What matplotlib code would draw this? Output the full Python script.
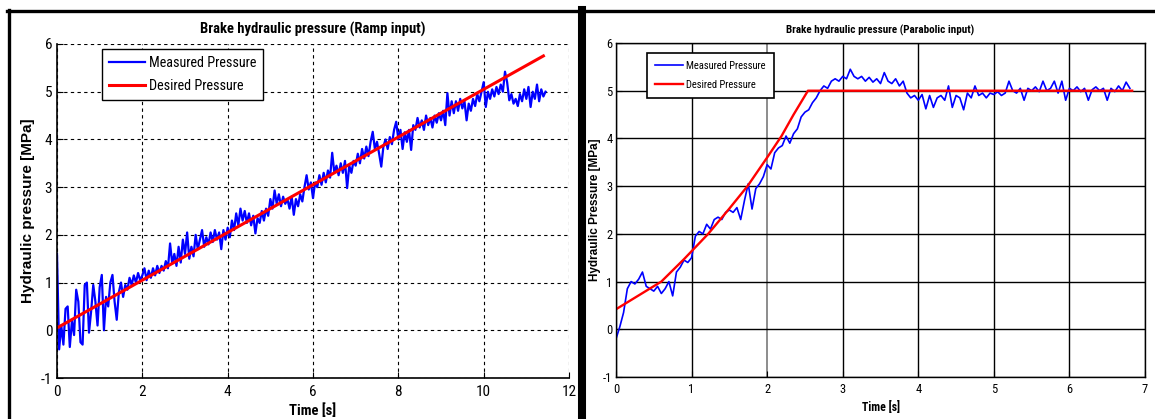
import numpy as np
import matplotlib
matplotlib.use('Agg')
import matplotlib.pyplot as plt
from matplotlib.lines import Line2D

plt.rcParams['font.family'] = ['Roboto Condensed', 'Archivo Narrow', 'Liberation Sans', 'DejaVu Sans']
plt.rcParams['axes.unicode_minus'] = False
WIDE = ['Liberation Sans', 'DejaVu Sans']  # 直排的 ylabel 用一般字寬

# ---- 左圖: Ramp input ----
dt = 0.05  # sampling step [s]
ramp_measured = [
    1.6, -0.4, 0.1, -0.3, 0.45, 0.5, -0.35, 0.2, -0.1, 0.85,
    0.6, -0.25, -0.3, 0.95, 1.0, -0.05, 0.4, 0.95, 0.6, 0.1,
    0.9, 1.16, 0.0, 0.7, 0.5, 1.0, 1.16, 0.6, 0.22, 0.8,
    1.0, 0.7, 0.95, 0.85, 1.1, 0.95, 1.15, 1.0, 1.2, 1.05,
    1.15, 1.3, 1.05, 1.25, 1.1, 1.3, 1.15, 1.35, 1.2, 1.35,
    1.25, 1.45, 1.3, 1.82, 1.4, 1.6, 1.35, 1.75, 1.42, 1.9,
    1.6, 2.05, 1.5, 1.75, 1.55, 2.0, 1.7, 1.9, 2.1, 1.75,
    1.95, 1.8, 2.05, 1.85, 2.1, 1.9, 2.05, 1.7, 2.1, 1.9,
    2.15, 1.95, 2.3, 2.1, 2.45, 2.2, 2.55, 2.3, 2.5, 2.25,
    2.45, 2.2, 2.4, 2.03, 2.35, 2.25, 2.5, 2.3, 2.55, 2.4,
    2.75, 2.55, 2.93, 2.65, 2.85, 2.6, 2.8, 2.65, 2.75, 2.55,
    2.8, 2.42, 2.75, 2.6, 2.85, 2.7, 3.0, 3.25, 2.95, 3.1,
    2.77, 3.1, 3.0, 3.25, 3.05, 3.3, 3.1, 3.35, 3.2, 3.72,
    3.3, 3.45, 3.25, 3.5, 3.3, 3.55, 2.98, 3.45, 3.3, 3.55,
    3.45, 3.7, 3.5, 3.8, 3.6, 3.85, 3.65, 3.95, 4.16, 3.8,
    3.95, 3.7, 3.43, 3.85, 4.0, 3.8, 4.05, 3.9, 4.2, 4.37,
    4.0, 4.2, 3.8, 4.15, 3.95, 4.2, 3.78, 4.3, 4.2, 4.45,
    4.25, 4.4, 4.2, 4.5, 4.3, 4.45, 4.25, 4.5, 4.35, 4.55,
    4.4, 4.6, 4.3, 4.97, 4.5, 4.8, 4.55, 4.8, 4.6, 4.85,
    4.65, 4.8, 4.4, 4.75, 4.6, 4.85, 4.7, 4.95, 4.8, 5.0,
    5.2, 4.68, 5.0, 4.85, 5.05, 4.9, 5.1, 4.95, 5.15, 5.0,
    5.42, 5.2, 4.82, 4.95, 4.75, 4.85, 4.7, 4.95, 4.8, 5.05,
    4.85, 5.1, 4.68, 5.0, 4.85, 5.15, 4.8, 5.05, 4.9, 5.0,
]
ramp_desired_t = [0.0, 11.4]
ramp_desired = [0.05, 5.75]

# ---- 右圖: Parabolic input ----
para_measured = [
    -0.2, 0.05, 0.35, 0.85, 1.0, 0.95, 1.05, 1.2, 0.9, 0.85,
    0.8, 0.9, 0.75, 0.85, 1.0, 0.7, 1.2, 1.3, 1.45, 1.4,
    1.5, 1.95, 2.05, 2.0, 2.2, 2.1, 2.3, 2.35, 2.3, 2.45,
    2.5, 2.45, 2.55, 2.3, 2.7, 3.05, 2.52, 2.95, 3.05, 3.2,
    3.45, 3.36, 3.7, 3.8, 3.85, 4.05, 3.9, 4.1, 4.2, 4.45,
    4.55, 4.6, 4.75, 4.85, 5.0, 5.1, 5.05, 5.2, 5.25, 5.2,
    5.3, 5.25, 5.45, 5.3, 5.25, 5.3, 5.2, 5.28, 5.18, 5.25,
    5.15, 5.38, 5.2, 5.15, 5.25, 5.1, 5.2, 4.95, 4.85, 4.9,
    4.8, 4.92, 4.62, 4.9, 4.65, 4.85, 4.9, 4.8, 5.1, 4.65,
    4.9, 4.85, 4.6, 4.95, 4.85, 5.1, 4.9, 4.95, 4.85, 4.95,
    4.92, 4.98, 4.9, 4.95, 5.2, 5.0, 4.95, 5.05, 4.8, 5.05,
    5.0, 5.08, 4.98, 5.2, 5.0, 5.05, 5.2, 4.95, 5.2, 4.8,
    5.05, 5.0, 5.08, 4.98, 5.05, 4.8, 5.02, 5.08, 5.0, 5.05,
    4.8, 5.05, 4.98, 5.1, 5.0, 5.18, 5.05,
]
para_desired_t = [0.0, 0.3, 0.6, 0.9, 1.22, 1.5, 1.74, 2.0, 2.19, 2.35, 2.54, 6.83]
para_desired = [0.42, 0.71, 1.0, 1.47, 2.0, 2.53, 3.0, 3.6, 4.05, 4.5, 5.0, 5.0]

t_ramp = np.arange(len(ramp_measured)) * dt
t_para = np.arange(len(para_measured)) * dt

W, H = 1155, 419
fig = plt.figure(figsize=(W / 100, H / 100), dpi=100)

def fx(px):
    return px / W

def fy(py):
    return 1 - py / H

# 左圖
ax1 = fig.add_axes([fx(57), fy(378), fx(569) - fx(57), fy(44) - fy(378)])
ax1.plot(t_ramp, ramp_measured, color='#0000ff', lw=1.6, label='Measured Pressure')
ax1.plot(ramp_desired_t, ramp_desired, color='#ff0000', lw=2.2, label='Desired Pressure')
ax1.set_xlim(0, 12)
ax1.set_ylim(-1, 6)
ax1.set_xticks(range(0, 13, 2))
ax1.set_yticks(range(-1, 7))
ax1.grid(True, color='black', linestyle=(0, (3, 3)), lw=0.8)
for s in ['top', 'right']:
    ax1.spines[s].set_visible(False)
for s in ['left', 'bottom']:
    ax1.spines[s].set_linewidth(1.2)
ax1.tick_params(direction='in', length=4, labelsize=11, colors='black')
ax1.tick_params(axis='x', pad=5)
ax1.tick_params(axis='y', pad=3.5)
ax1.set_title('Brake hydraulic pressure (Ramp input)', fontsize=10.5, fontweight='bold', pad=7.5)
ax1.set_xlabel('Time [s]', fontsize=10.5, fontweight='bold', labelpad=3)
ax1.set_ylabel('Hydraulic pressure [MPa]', fontsize=11, fontweight='bold', labelpad=4,
               family=WIDE)
leg1 = ax1.legend(loc='upper left', bbox_to_anchor=(0.088, 0.985), borderaxespad=0,
                  fancybox=False, framealpha=1, edgecolor='black', fontsize=10.2,
                  handlelength=2.5, handletextpad=0.3, borderpad=0.5, labelspacing=0.62)
leg1.get_frame().set_linewidth(1.0)

# 右圖
ax2 = fig.add_axes([fx(616), fy(377), fx(1145) - fx(616), fy(43) - fy(377)])
ax2.plot(t_para, para_measured, color='#0000ff', lw=1.2, label='Measured Pressure')
ax2.plot(para_desired_t, para_desired, color='#ff0000', lw=1.7, label='Desired Pressure')
ax2.set_xlim(0, 7)
ax2.set_ylim(-1, 6)
ax2.set_xticks(range(0, 8))
ax2.set_yticks(range(-1, 7))
ax2.grid(True, color='black', linestyle='-', lw=1.0)
ax2.get_xgridlines()[2].set_color('0.55')
ax2.get_xgridlines()[2].set_linewidth(1.4)
for s in ax2.spines.values():
    s.set_linewidth(1.0)
ax2.tick_params(direction='in', length=4, labelsize=9, colors='black')
ax2.tick_params(axis='x', pad=4)
ax2.tick_params(axis='y', pad=2.5)
ax2.set_title('Brake hydraulic pressure (Parabolic input)', fontsize=8, fontweight='bold', pad=6.5)
ax2.set_xlabel('Time [s]', fontsize=8.5, fontweight='bold', labelpad=4)
ax2.set_ylabel('Hydraulic Pressure [MPa]', fontsize=8.5, fontweight='bold', labelpad=1.5,
               family=WIDE)
leg2 = ax2.legend(loc='upper left', bbox_to_anchor=(0.059, 0.97), borderaxespad=0,
                  fancybox=False, framealpha=1, edgecolor='black', fontsize=7.6,
                  handlelength=2.6, handletextpad=0.35, borderpad=0.75, labelspacing=0.85)
leg2.get_frame().set_linewidth(1.2)

# 外框
fig.add_artist(Line2D([fx(7), fx(582)], [fy(11.5), fy(11.5)], color='black', lw=2.4))
fig.add_artist(Line2D([fx(8.5), fx(8.5)], [fy(10), fy(419)], color='black', lw=2.4))
fig.add_artist(Line2D([fx(582), fx(582)], [fy(10), fy(419)], color='black', lw=5.8))
fig.add_artist(Line2D([fx(582), fx(1155)], [fy(11), fy(11)], color='black', lw=2.4))

fig.savefig('out.png', dpi=100)
